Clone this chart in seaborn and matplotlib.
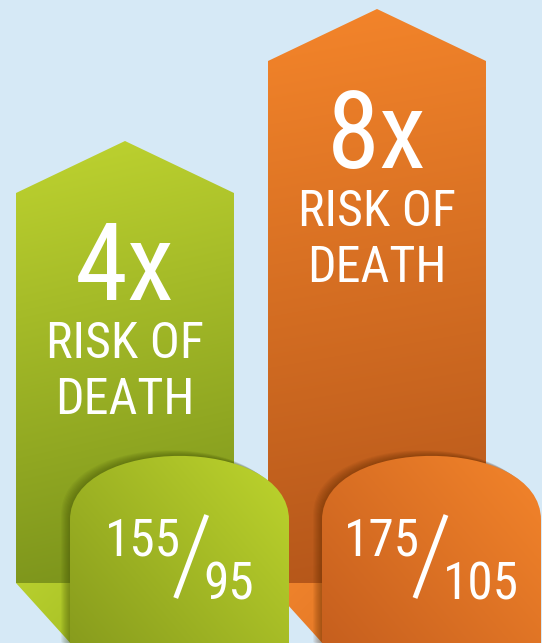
import numpy as np
import matplotlib
matplotlib.use("Agg")
import matplotlib.pyplot as plt
from matplotlib.path import Path
from matplotlib.patches import PathPatch
from matplotlib import font_manager
import seaborn as sns

# ---------------- data ----------------
bp_labels = ["155/95", "175/105"]
systolic = ["155", "175"]
diastolic = ["95", "105"]
risk_labels = ["4x", "8x"]
risk_line1 = "RISK OF"
risk_line2 = "DEATH"
arrow_height = [450, 582]   # visual height of each arrow body (px above bottom)

# ---------------- style ----------------
W, H = 542, 643
BG = "#D6E9F6"
S = 252.0      # pixels per category step
X0 = 125.0     # pixel position of first category

def rgb(h):
    h = h.lstrip("#")
    return np.array([int(h[i:i + 2], 16) / 255 for i in (0, 2, 4)])

arrow_cols = [(rgb("#7A921B"), rgb("#BCD12F")), (rgb("#B4561A"), rgb("#F3842A"))]
fold_cols = [(rgb("#A9C226"), rgb("#B8CF2E")), (rgb("#E67A28"), rgb("#F0842C"))]
tab_cols = [(rgb("#889C1D"), rgb("#BED52D")), (rgb("#C65F1E"), rgb("#F4852B"))]
shadow_cols = ["#3C4A05", "#5A2800"]

sns.set_theme(style="white")
avail = {f.name for f in font_manager.fontManager.ttflist}
fam = [f for f in ["Liberation Sans Narrow", "Roboto Condensed", "Roboto", "DejaVu Sans"] if f in avail]
plt.rcParams["font.family"] = fam

fig = plt.figure(figsize=(W / 100, H / 100), dpi=100, facecolor=BG)
ax = fig.add_axes([0, 0, 1, 1])
ax.set_facecolor(BG)

sns.barplot(x=bp_labels, y=arrow_height, ax=ax, width=0.865, color="#999999")
bars = list(ax.patches)
for b in bars:
    b.set_visible(False)


def to_data(pts):
    pts = np.asarray(pts, float)
    return np.column_stack([(pts[:, 0] - X0) / S, pts[:, 1]])


def grad_patch(verts, codes, c_dark, c_light, p_dark, p_light, z):
    vp = np.asarray(verts, float)
    path = Path(to_data(vp), codes)
    patch = PathPatch(path, facecolor="none", edgecolor="none", zorder=z)
    ax.add_patch(patch)
    umin, umax = vp[:, 0].min(), vp[:, 0].max()
    vmin, vmax = vp[:, 1].min(), vp[:, 1].max()
    uu, vv = np.meshgrid(np.linspace(umin, umax, 300), np.linspace(vmin, vmax, 300))
    d = np.array(p_light, float) - np.array(p_dark, float)
    t = ((uu - p_dark[0]) * d[0] + (vv - p_dark[1]) * d[1]) / (d @ d)
    t = np.clip(t, 0, 1)[..., None]
    img = c_dark + (c_light - c_dark) * t
    im = ax.imshow(img, extent=[(umin - X0) / S, (umax - X0) / S, vmin, vmax],
                   origin="lower", aspect="auto", zorder=z, interpolation="bilinear")
    im.set_clip_path(patch)
    return path


def tab_verts(L, R, dx=0.0, dy=0.0):
    top_ctrl, corner = 208.5, 123.0
    v = [(L, -5), (L, corner), (L, top_ctrl), (R, top_ctrl), (R, corner), (R, -5), (L, -5)]
    v = [(a + dx, b + dy) for a, b in v]
    c = [Path.MOVETO, Path.LINETO, Path.CURVE4, Path.CURVE4, Path.CURVE4, Path.LINETO, Path.CLOSEPOLY]
    return v, c


renderer = fig.canvas.get_renderer()
VB = 60.0      # bottom of arrow bodies
HEAD = 52.0

ax.set_xlim(-X0 / S, (W - X0) / S)
ax.set_ylim(0, H)

for i, b in enumerate(bars):
    cx = X0 + S * (b.get_x() + b.get_width() / 2)
    half = S * b.get_width() / 2
    h = b.get_height()
    L, R = cx - half, cx + half
    zb = 1 + 2 * i
    # arrow body with pointed head
    verts = [(L, VB), (R, VB), (R, h), (cx, h + HEAD), (L, h), (L, VB)]
    codes = [Path.MOVETO] + [Path.LINETO] * 4 + [Path.CLOSEPOLY]
    grad_patch(verts, codes, arrow_cols[i][0], arrow_cols[i][1],
               (cx + 60, VB), (cx - 40, h + HEAD), zb)
    # folded flap under the body
    fverts = [(L, VB), (L + 100, VB), (L + 100, -3), (L + 57, -3), (L, VB)]
    fcodes = [Path.MOVETO] + [Path.LINETO] * 3 + [Path.CLOSEPOLY]
    grad_patch(fverts, fcodes, fold_cols[i][0], fold_cols[i][1],
               (L + 60, 0), (L, VB), zb + 0.5)

    # tab with soft shadow
    TL, TR = cx - 55, cx + 164
    for k in range(1, 9):
        sv, sc = tab_verts(TL, TR, dx=-k * 1.1, dy=k * 0.7)
        ax.add_patch(PathPatch(Path(to_data(sv), sc), facecolor=shadow_cols[i],
                               edgecolor="none", alpha=0.065, zorder=5))
    tv, tc = tab_verts(TL, TR)
    grad_patch(tv, tc, tab_cols[i][0], tab_cols[i][1], (TL, 0), (TR, 187), 6)

    # risk text
    tx = (cx - X0) / S
    ax.text(tx, h - 107, risk_labels[i], ha="center", va="baseline",
            fontsize=77, color="white", zorder=8)
    ax.text(tx, h - 165, risk_line1, ha="center", va="baseline",
            fontsize=36, color="white", zorder=8)
    ax.text(tx, h - 221, risk_line2, ha="center", va="baseline",
            fontsize=36, color="white", zorder=8)

    # blood-pressure fraction
    t1 = ax.text(0, 88, systolic[i], ha="left", va="baseline", fontsize=37,
                 color="white", zorder=8)
    t2 = ax.text(0, 44, diastolic[i], ha="left", va="baseline", fontsize=37,
                 color="white", zorder=8)
    w1 = t1.get_window_extent(renderer).width
    w2 = t2.get_window_extent(renderer).width
    gap = 23
    total = w1 + gap + w2
    left = (TL + TR) / 2 - total / 2
    srt = left + w1
    t1.set_x((left - X0) / S)
    t2.set_x((srt + gap - X0) / S)
    ax.plot([(srt - 5 - X0) / S, (srt + 26 - X0) / S], [45, 128], color="white",
            lw=3.6, solid_capstyle="butt", zorder=8)

ax.set_xlim(-X0 / S, (W - X0) / S)
ax.set_ylim(0, H)
ax.axis("off")
fig.savefig("out.png", dpi=100, facecolor=BG)
